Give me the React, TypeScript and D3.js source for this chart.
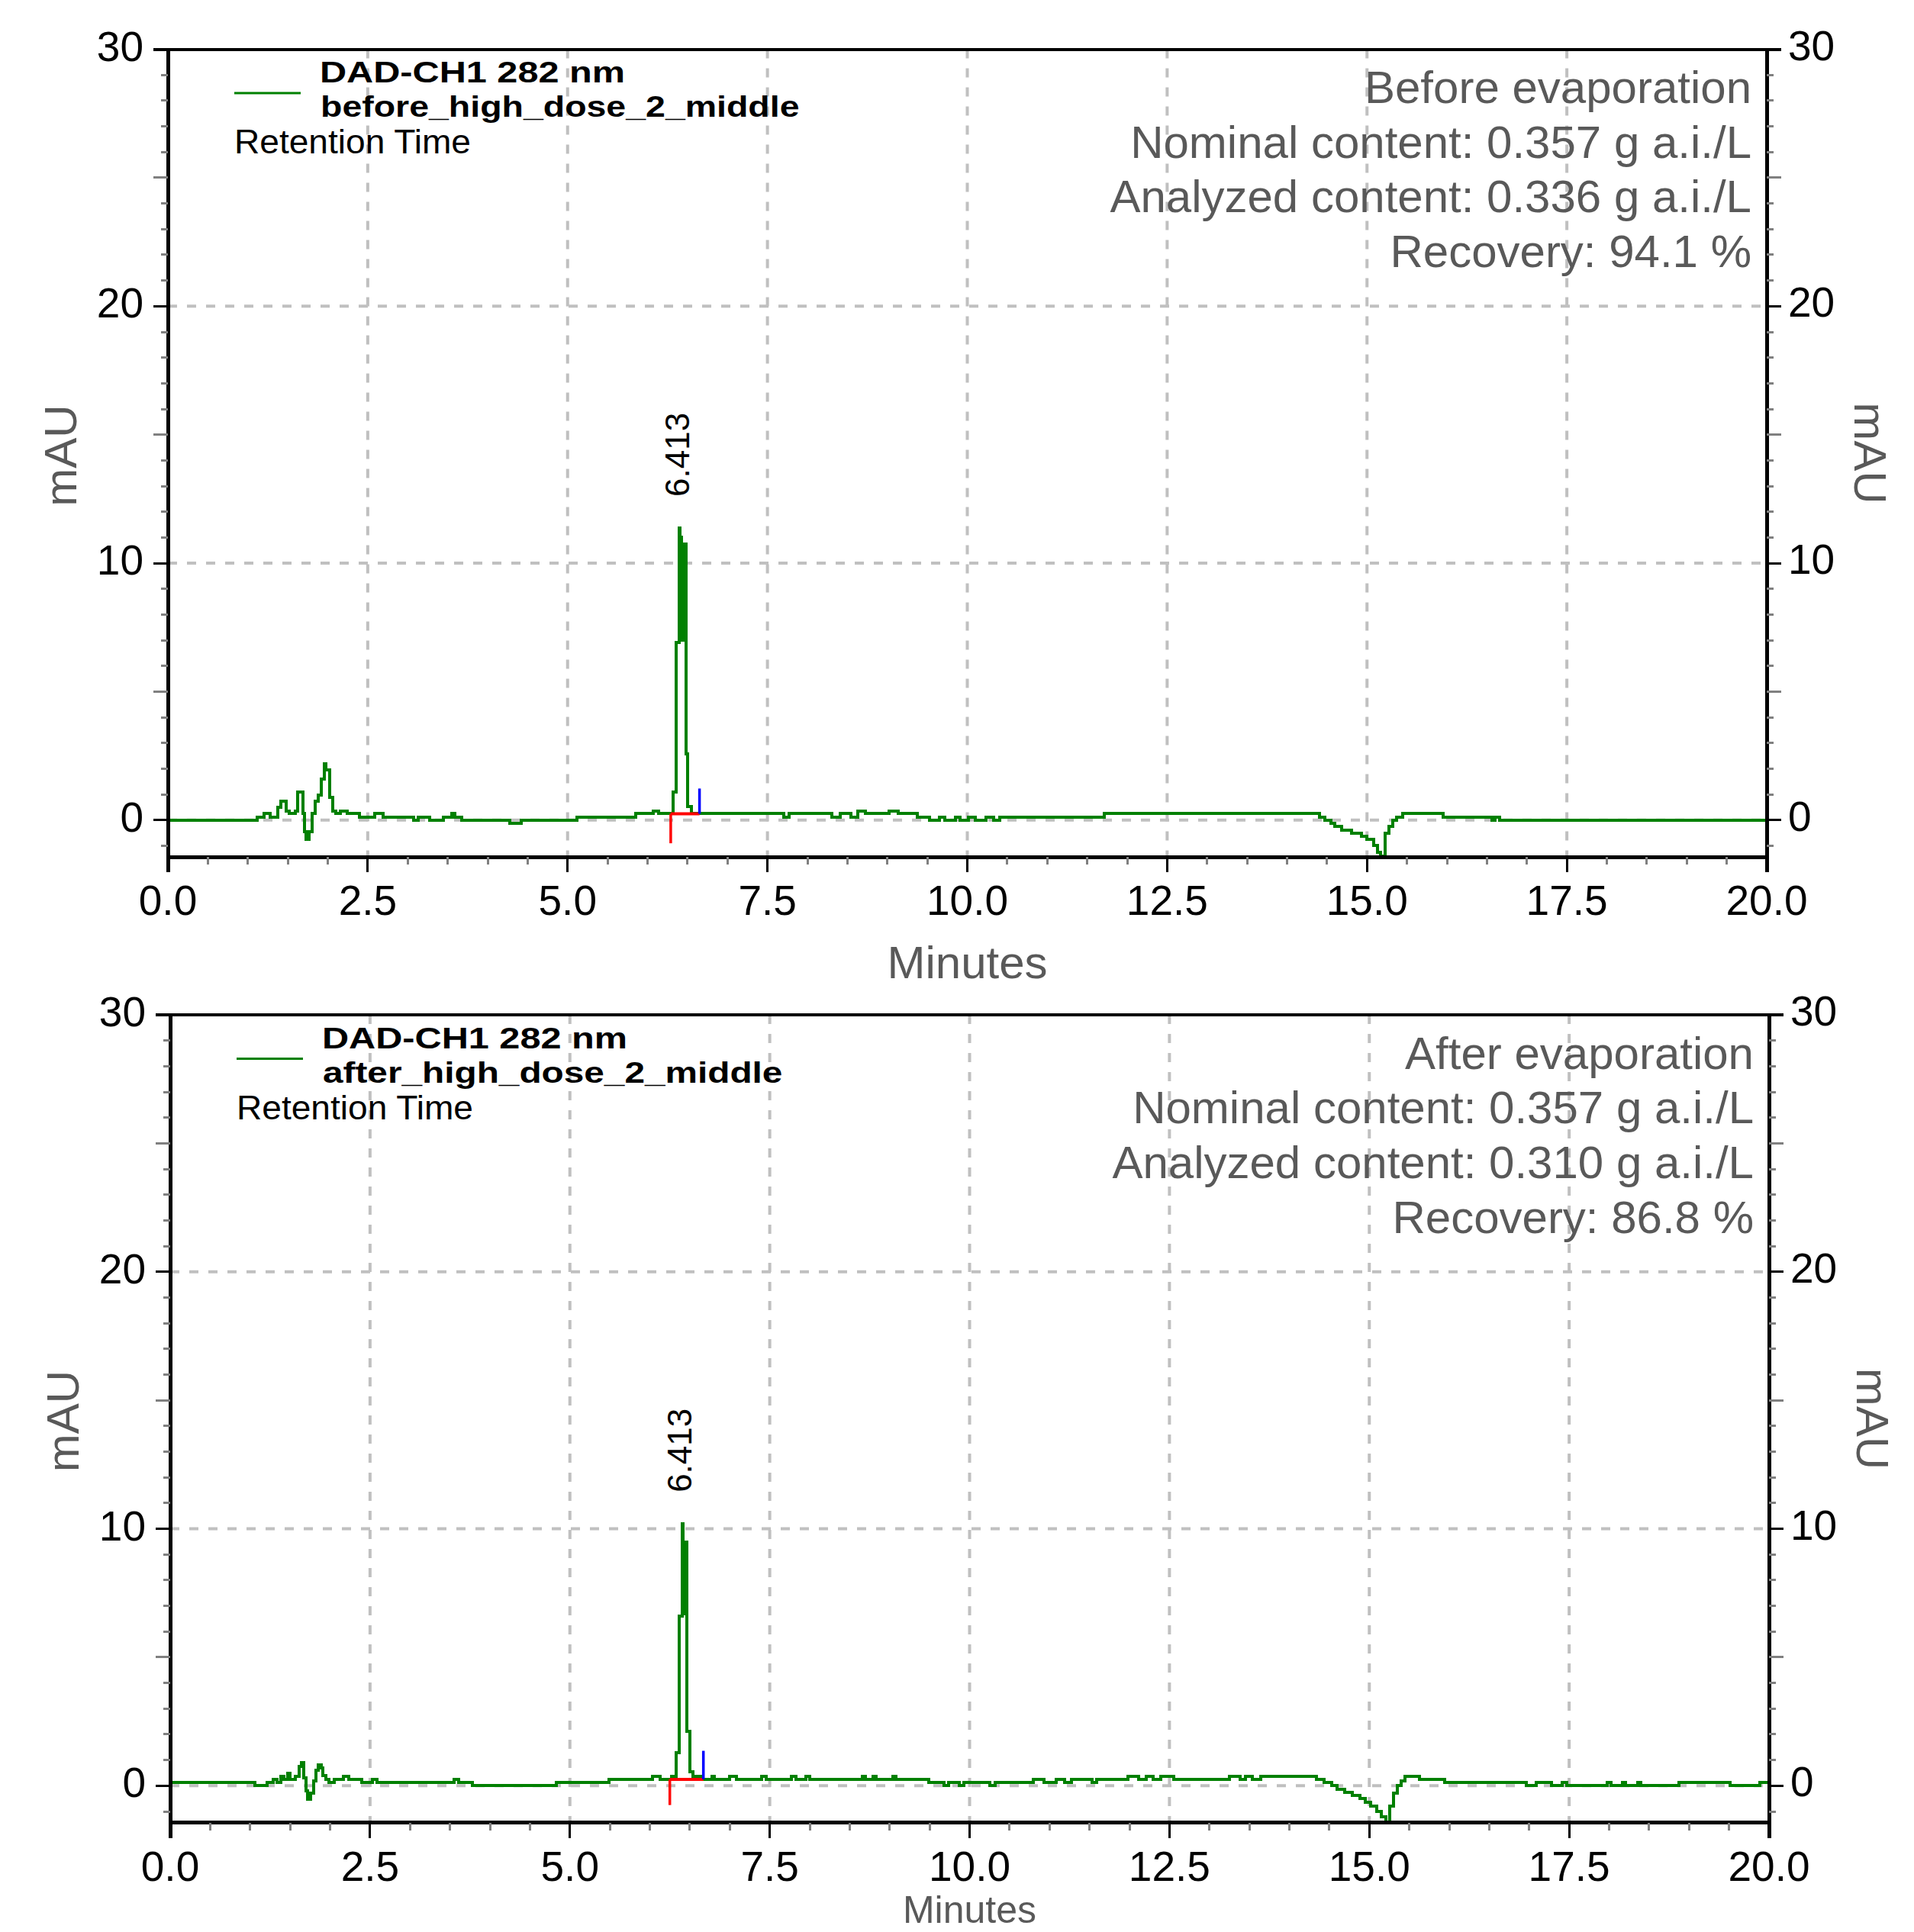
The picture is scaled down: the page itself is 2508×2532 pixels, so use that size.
import React from 'react'
import * as d3 from 'd3'

const W = 2508
const H = 2532

// x axis / y axis ticks
const xTicks = [0, 2.5, 5, 7.5, 10, 12.5, 15, 17.5, 20]
const xGrid = [2.5, 5, 7.5, 10, 12.5, 15, 17.5]
const yTicks = [0, 10, 20, 30]
const yGrid = [0, 10, 20]

// chromatogram traces, [minutes, mAU] (step-wise)
const beforeTrace: [number, number][] = [
  [0, 0], [1.12, 0.12], [1.2, 0.25], [1.28, 0.12], [1.37, 0.5], [1.41, 0.75], [1.48, 0.36],
  [1.52, 0.25], [1.59, 0.36], [1.62, 1.1], [1.69, 0.25], [1.71, -0.45], [1.73, -0.75],
  [1.77, -0.45], [1.8, 0.25], [1.84, 0.75], [1.88, 0.97], [1.92, 1.61], [1.96, 2.2],
  [1.98, 1.96], [2.02, 0.88], [2.06, 0.36], [2.1, 0.25], [2.16, 0.36], [2.24, 0.25],
  [2.4, 0.12], [2.59, 0.25], [2.69, 0.12], [3.07, 0], [3.13, 0.12], [3.27, 0], [3.45, 0.12],
  [3.55, 0.25], [3.59, 0.12], [3.68, 0], [4.28, -0.13], [4.42, 0], [5.12, 0.12], [5.85, 0.25],
  [6.07, 0.36], [6.14, 0.25], [6.317, 1.1], [6.358, 6.9], [6.396, 11.37], [6.41, 7.0],
  [6.415, 11.0], [6.425, 7.0], [6.43, 10.75], [6.445, 7.0], [6.45, 10.75], [6.479, 2.57],
  [6.498, 0.52], [6.549, 0.25], [7.7, 0.12], [7.77, 0.25], [8.31, 0.12], [8.41, 0.25],
  [8.54, 0.12], [8.63, 0.36], [8.73, 0.25], [9.02, 0.36], [9.14, 0.25], [9.37, 0.12],
  [9.53, 0], [9.65, 0.12], [9.72, 0], [9.85, 0.12], [9.91, 0], [10.01, 0.12], [10.1, 0],
  [10.23, 0.12], [10.33, 0], [10.41, 0.12], [11.71, 0.25], [14.41, 0.12], [14.47, 0],
  [14.55, -0.13], [14.6, -0.25], [14.68, -0.38], [14.81, -0.5], [14.93, -0.62], [15.0, -0.75],
  [15.08, -0.97], [15.13, -1.24], [15.165, -1.39], [15.23, -0.5], [15.27, -0.25], [15.32, 0],
  [15.37, 0.12], [15.45, 0.25], [15.95, 0.12], [16.56, 0], [16.6, 0.12], [16.66, 0], [20, 0]
]

const afterTrace: [number, number][] = [
  [0, 0.12], [1.06, 0], [1.21, 0.12], [1.29, 0.25], [1.34, 0.12], [1.38, 0.37], [1.42, 0.25],
  [1.47, 0.5], [1.5, 0.25], [1.57, 0.37], [1.61, 0.75], [1.64, 0.9], [1.67, 0.3], [1.7, -0.2],
  [1.72, -0.52], [1.76, -0.3], [1.79, 0.2], [1.82, 0.6], [1.85, 0.8], [1.89, 0.7], [1.91, 0.4],
  [1.95, 0.25], [1.99, 0.12], [2.05, 0.25], [2.17, 0.37], [2.23, 0.25], [2.4, 0.12],
  [2.53, 0.25], [2.59, 0.12], [3.55, 0.25], [3.61, 0.12], [3.78, 0], [4.83, 0.12], [5.49, 0.25],
  [6.03, 0.37], [6.13, 0.25], [6.27, 0.37], [6.33, 1.28], [6.37, 6.59], [6.41, 10.2],
  [6.42, 6.7], [6.43, 9.47], [6.44, 6.7], [6.445, 9.47], [6.46, 2.12], [6.5, 0.54],
  [6.54, 0.37], [6.64, 0.25], [6.78, 0.37], [6.81, 0.25], [7.0, 0.37], [7.08, 0.25],
  [7.4, 0.37], [7.46, 0.25], [7.77, 0.37], [7.83, 0.25], [7.95, 0.37], [8.0, 0.25],
  [8.66, 0.37], [8.7, 0.25], [8.79, 0.37], [8.83, 0.25], [9.04, 0.37], [9.08, 0.25],
  [9.49, 0.12], [9.68, 0], [9.74, 0.12], [9.87, 0], [9.93, 0.12], [10.25, 0], [10.32, 0.12],
  [10.8, 0.25], [10.93, 0.12], [11.08, 0.25], [11.19, 0.12], [11.27, 0.25], [11.53, 0.12],
  [11.59, 0.25], [11.98, 0.37], [12.11, 0.25], [12.21, 0.37], [12.3, 0.25], [12.39, 0.37],
  [12.55, 0.25], [13.25, 0.37], [13.38, 0.25], [13.45, 0.37], [13.54, 0.25], [13.64, 0.37],
  [14.34, 0.25], [14.43, 0.12], [14.53, 0], [14.6, -0.13], [14.69, -0.25], [14.79, -0.38],
  [14.88, -0.5], [14.95, -0.65], [15.02, -0.8], [15.09, -1.0], [15.15, -1.2], [15.21, -1.42],
  [15.26, -0.8], [15.3, -0.3], [15.35, 0], [15.4, 0.2], [15.45, 0.37], [15.63, 0.25],
  [15.94, 0.12], [16.96, 0], [17.09, 0.12], [17.28, 0], [17.41, 0.12], [17.47, 0],
  [17.98, 0.12], [18.02, 0], [18.17, 0.12], [18.21, 0], [18.36, 0.12], [18.4, 0],
  [18.87, 0.12], [19.51, 0], [19.89, 0.12], [20, 0.12]
]

const channel = 'DAD-CH1  282 nm'
const sampleNames = ['before_high_dose_2_middle', 'after_high_dose_2_middle']
const beforeInfo = ['Before evaporation', 'Nominal content: 0.357 g a.i./L', 'Analyzed content: 0.336 g a.i./L', 'Recovery: 94.1 %']
const afterInfo = ['After evaporation', 'Nominal content: 0.357 g a.i./L', 'Analyzed content: 0.310 g a.i./L', 'Recovery: 86.8 %']
const peakTimes = [6.413, 6.413]
// integration marks: [start, end, red drop, blue rise, baseline level]
const peakMarks = [
  [6.29, 6.65, -0.9, 1.23, 0.25],
  [6.25, 6.67, -0.75, 1.36, 0.25]
]

const FONT = "'Liberation Sans', Arial, sans-serif"
const GREEN = '#008000'
const GREY_TXT = '#595959'

type PanelProps = {
  dx: number
  dy: number
  trace: [number, number][]
  name: string
  info: string[]
  peak: number
  marks: number[]
  titleY: number
  titleSize: number
}

const Panel = ({ dx, dy, trace, name, info, peak, marks, titleY, titleSize }: PanelProps) => {
  const x0 = 220 + dx
  const x1 = 2315 + dx
  const yBot = 1123 + dy
  const yTop = 64.6 + dy
  const x = d3.scaleLinear().domain([0, 20]).range([x0, x1])
  const y = d3.scaleLinear().domain([-1.43, 30]).range([yBot, yTop])

  const line = d3.line<[number, number]>()
    .x(d => x(d[0]))
    .y(d => y(d[1]))
    .curve(d3.curveStepAfter)

  const xMinor = d3.range(0, 20.001, 0.5).filter(v => v % 2.5 !== 0)
  const yMinor = d3.range(-1, 31, 1).filter(v => v % 10 !== 0)

  const apex = d3.max(trace, d => d[1]) as number
  const [ms, me, redDrop, blueRise, base] = marks

  return (
    <g>
      {/* grid */}
      {xGrid.map(v => (
        <line key={'gx' + v} x1={x(v)} x2={x(v)} y1={yTop} y2={yBot}
          stroke="#c0c0c0" strokeWidth={4} strokeDasharray="12 13" />
      ))}
      {yGrid.map(v => (
        <line key={'gy' + v} x1={x0} x2={x1} y1={y(v)} y2={y(v)}
          stroke="#c0c0c0" strokeWidth={4} strokeDasharray="12 13" />
      ))}

      {/* trace */}
      <path d={line(trace) ?? ''} fill="none" stroke={GREEN} strokeWidth={4}
        shapeRendering="crispEdges" />

      {/* integration marks */}
      <line x1={x(ms)} x2={x(ms)} y1={y(base)} y2={y(redDrop)} stroke="#ff0000" strokeWidth={3.5} />
      <line x1={x(ms)} x2={x(me)} y1={y(base)} y2={y(base)} stroke="#ff0000" strokeWidth={4} />
      <line x1={x(me)} x2={x(me)} y1={y(base)} y2={y(blueRise)} stroke="#0000ff" strokeWidth={3.5} />

      {/* peak label */}
      <text transform={`translate(${x(peak) + 11},${y(apex) - 41}) rotate(-90)`}
        fontFamily={FONT} fontSize={44} fill="#000">{peak.toFixed(3)}</text>

      {/* axes frame */}
      <g shapeRendering="crispEdges">
        <line x1={x0 - 19} x2={x1 + 19} y1={yTop} y2={yTop} stroke="#000" strokeWidth={4} />
        <line x1={x0} x2={x0} y1={yTop} y2={yBot + 20} stroke="#000" strokeWidth={5} />
        <line x1={x1} x2={x1} y1={yTop} y2={yBot + 20} stroke="#000" strokeWidth={5} />
        <line x1={x0} x2={x1} y1={yBot} y2={yBot} stroke="#000" strokeWidth={5} />

        {xTicks.map(v => (
          <line key={'xt' + v} x1={x(v)} x2={x(v)} y1={yBot} y2={yBot + 20} stroke="#000" strokeWidth={3} />
        ))}
        {xMinor.map(v => (
          <line key={'xm' + v} x1={x(v)} x2={x(v)} y1={yBot} y2={yBot + 10} stroke="#808080" strokeWidth={3} />
        ))}
        {yTicks.map(v => (
          <g key={'yt' + v}>
            <line x1={x0 - 19} x2={x0} y1={y(v)} y2={y(v)} stroke="#000" strokeWidth={3} />
            <line x1={x1} x2={x1 + 19} y1={y(v)} y2={y(v)} stroke="#000" strokeWidth={3} />
          </g>
        ))}
        {yMinor.map(v => {
          const len = v % 5 === 0 ? 19 : 9
          return (
            <g key={'ym' + v}>
              <line x1={x0 - len} x2={x0} y1={y(v)} y2={y(v)} stroke="#808080" strokeWidth={3} />
              <line x1={x1} x2={x1 + len} y1={y(v)} y2={y(v)} stroke="#808080" strokeWidth={3} />
            </g>
          )
        })}
      </g>

      {/* tick labels */}
      <g fontFamily={FONT} fontSize={55} fill="#000">
        {xTicks.map(v => (
          <text key={'xl' + v} x={x(v)} y={yBot + 76} textAnchor="middle">{v.toFixed(1)}</text>
        ))}
        {yTicks.map(v => (
          <text key={'yl' + v} x={x0 - 32} y={y(v) + 15} textAnchor="end">{v}</text>
        ))}
        {yTicks.map(v => (
          <text key={'yr' + v} x={x1 + 28} y={y(v) + 14} textAnchor="start">{v}</text>
        ))}
      </g>

      {/* axis titles */}
      <g fontFamily={FONT} fontSize={60} fill={GREY_TXT}>
        <text x={(x0 + x1) / 2} y={titleY} fontSize={titleSize} textAnchor="middle">Minutes</text>
        <text transform={`translate(${100 + dx},${597 + dy}) rotate(-90)`} textAnchor="middle">mAU</text>
        <text transform={`translate(${2430 + dx},${594 + dy}) rotate(90)`} textAnchor="middle">mAU</text>
      </g>

      {/* legend */}
      <line x1={307 + dx} x2={394 + dx} y1={122 + dy} y2={122 + dy} stroke={GREEN} strokeWidth={3} />
      <g fontFamily={FONT} fill="#000">
        <text x={419 + dx} y={108 + dy} fontSize={38} fontWeight="bold"
          textLength={400} lengthAdjust="spacingAndGlyphs">{channel}</text>
        <text x={420 + dx} y={153 + dy} fontSize={38} fontWeight="bold"
          textLength={name.length * 25.1} lengthAdjust="spacingAndGlyphs">{name}</text>
        <text x={307 + dx} y={201 + dy} fontSize={44}
          textLength={310} lengthAdjust="spacingAndGlyphs">Retention Time</text>
      </g>

      {/* annotation */}
      <g fontFamily={FONT} fontSize={60} fill={GREY_TXT} textAnchor="end">
        {info.map((s, i) => (
          <text key={s} x={x1 - 20} y={135 + dy + i * 71.7}>{s}</text>
        ))}
      </g>
    </g>
  )
}

export default function App() {
  return (
    <svg width={W} height={H} viewBox={`0 0 ${W} ${H}`}
      style={{ position: 'absolute', left: 0, top: 0, background: '#fff' }}>
      <rect width={W} height={H} fill="#fff" />
      <Panel dx={0} dy={0} trace={beforeTrace} name={sampleNames[0]} info={beforeInfo}
        peak={peakTimes[0]} marks={peakMarks[0]} titleY={1282} titleSize={60} />
      <Panel dx={3} dy={1265.5} trace={afterTrace} name={sampleNames[1]} info={afterInfo}
        peak={peakTimes[1]} marks={peakMarks[1]} titleY={2520} titleSize={50} />
    </svg>
  )
}
